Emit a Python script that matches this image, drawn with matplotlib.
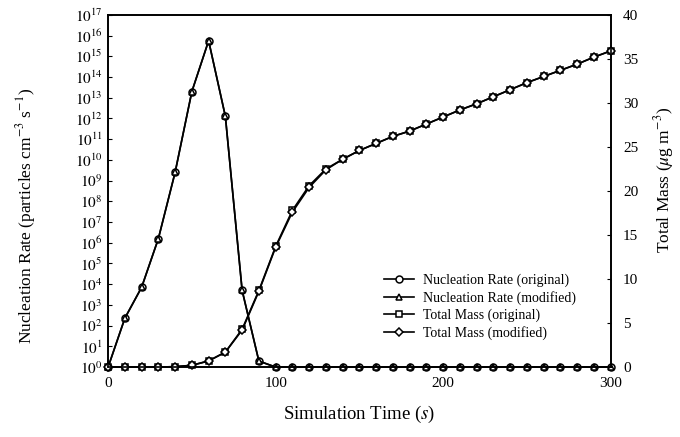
import numpy as np
import matplotlib
matplotlib.use("Agg")
import matplotlib.pyplot as plt

plt.rcParams['font.family'] = ['Liberation Serif', 'DejaVu Serif']
plt.rcParams['mathtext.fontset'] = 'stix'

# simulation time (s), one point every 10 s
time_s = list(range(0, 301, 10))

# log10 of nucleation rate (particles cm^-3 s^-1)
log_nuc_orig = [0, 2.37, 3.85, 6.2, 9.4, 13.3, 15.75, 12.1, 3.7, 0.29] + [0] * 21
log_nuc_mod = [0, 2.35, 3.85, 6.2, 9.4, 13.3, 15.75, 12.1, 3.7, 0.29] + [0] * 21

# total mass (ug m^-3)
mass_orig = [0, 0, 0, 0, 0.05, 0.2, 0.7, 1.7, 4.3, 8.7, 13.7, 17.8, 20.6, 22.5, 23.6,
             24.6, 25.4, 26.2, 26.8, 27.6, 28.4, 29.2, 29.9, 30.7, 31.5, 32.3, 33.0,
             33.7, 34.4, 35.2, 35.9]
mass_mod = [0, 0, 0, 0, 0.05, 0.2, 0.7, 1.7, 4.2, 8.6, 13.6, 17.6, 20.4, 22.4, 23.6,
            24.6, 25.4, 26.2, 26.8, 27.6, 28.4, 29.2, 29.9, 30.7, 31.5, 32.3, 33.0,
            33.7, 34.4, 35.2, 35.9]

nuc_orig = 10 ** np.array(log_nuc_orig)
nuc_mod = 10 ** np.array(log_nuc_mod)

fig = plt.figure(figsize=(6.8, 4.37), dpi=100)
ax = fig.add_axes([0.159, 0.160, 0.739, 0.806])
ax2 = ax.twinx()

mk = dict(color='black', lw=1.2, ms=5, mfc='white', mec='black', mew=1.1, clip_on=False)
l1, = ax.plot(time_s, nuc_orig, marker='o', label='Nucleation Rate (original)', **mk)
l2, = ax.plot(time_s, nuc_mod, marker='^', label='Nucleation Rate (modified)', **mk)
l3, = ax2.plot(time_s, mass_orig, marker='s', label='Total Mass (original)', **mk)
l4, = ax2.plot(time_s, mass_mod, marker='D', label='Total Mass (modified)',
               **{**mk, 'ms': 4.5})

ax.set_yscale('log')
ax.set_ylim(1, 1e17)
ax.set_xlim(0, 300)
ax.set_xticks([0, 100, 200, 300])
ax.set_yticks([10.0 ** k for k in range(18)])
ax.yaxis.set_minor_locator(matplotlib.ticker.NullLocator())
ax.set_yticklabels([r'$10^{%d}$' % k for k in range(18)])
ax2.set_ylim(0, 40)
ax2.set_yticks(range(0, 41, 5))

for a in (ax, ax2):
    a.tick_params(direction='in', length=3, width=0.8, labelsize=11, pad=4)
    for s in a.spines.values():
        s.set_linewidth(1.2)
ax.tick_params(axis='x', pad=7)
ax2.tick_params(axis='y', pad=9)

ax.set_xlabel('Simulation Time ($s$)', fontsize=13.5)
ax.xaxis.set_label_coords(0.5, -0.105)
ax.set_ylabel(r'Nucleation Rate (particles cm$^{-3}$ s$^{-1}$)', fontsize=12.5)
ax.yaxis.set_label_coords(-0.139, 0.43)
ax2.set_ylabel(r'Total Mass ($\mu$g m$^{-3}$)', fontsize=12.5)
ax2.yaxis.set_label_coords(1.083, 0.53)

ax2.legend(handles=[l1, l2, l3, l4], loc='lower right', bbox_to_anchor=(0.955, 0.04),
           frameon=False, fontsize=10, handlelength=2.2, labelspacing=0.3,
           handletextpad=0.6)

fig.savefig('out.png', dpi=100)
